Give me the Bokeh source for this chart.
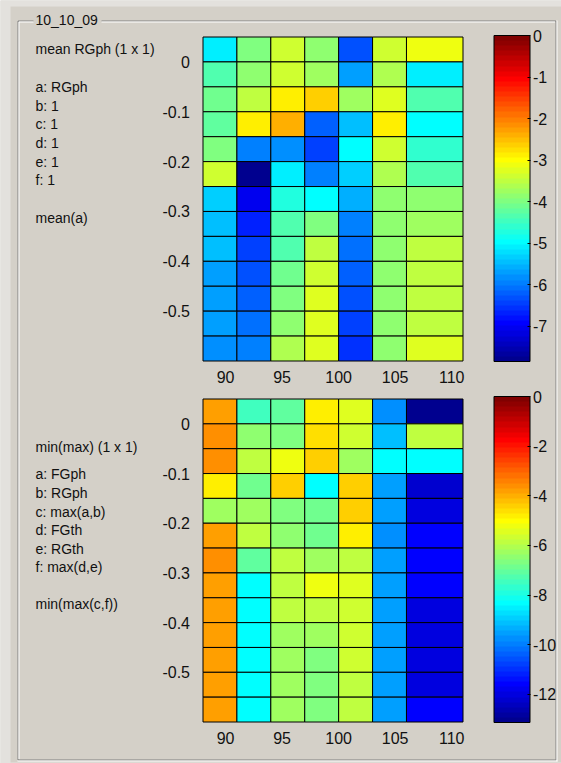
import numpy as np
from bokeh.plotting import figure
from bokeh.models import (Range1d, LinearAxis, FixedTicker, LinearColorMapper,
                          ColorBar, ColumnDataSource, AllLabels)
from bokeh.core.properties import value
from bokeh.embed import file_html
from bokeh.resources import INLINE

# ---------------- data ----------------
x_edges = [88, 91, 94, 97, 100, 103, 106, 111]
y_edges = [0.05, 0.0, -0.05, -0.1, -0.15, -0.2, -0.25, -0.3, -0.35,
           -0.4, -0.45, -0.5, -0.55, -0.6]

x_ticks = [90, 95, 100, 105, 110]
x_tick_labels = ["90", "95", "100", "105", "110"]
y_ticks = [0, -0.1, -0.2, -0.3, -0.4, -0.5]
y_tick_labels = ["0", "-0.1", "-0.2", "-0.3", "-0.4", "-0.5"]

top_values = [
    [-5.10, -4.00, -3.34, -3.85, -6.28, -3.34, -3.09],
    [-4.32, -3.85, -3.34, -3.73, -5.69, -3.61, -5.10],
    [-4.12, -3.53, -2.94, -2.69, -3.73, -3.22, -4.32],
    [-4.24, -2.94, -2.39, -6.20, -5.40, -2.94, -4.91],
    [-3.93, -5.89, -5.81, -6.48, -4.91, -3.34, -4.63],
    [-3.34, -7.80, -5.10, -5.97, -5.30, -3.61, -4.32],
    [-5.30, -7.07, -4.71, -5.02, -5.57, -3.85, -3.85],
    [-5.50, -6.67, -4.32, -4.00, -5.89, -3.85, -3.73],
    [-5.50, -6.48, -4.32, -3.53, -6.08, -3.85, -3.53],
    [-5.69, -6.36, -4.12, -3.34, -6.20, -3.85, -3.53],
    [-5.69, -6.20, -3.93, -3.22, -6.36, -3.85, -3.45],
    [-5.69, -6.08, -3.85, -3.22, -6.48, -3.85, -3.45],
    [-5.81, -5.97, -3.61, -3.22, -6.59, -3.85, -3.22],
]
bottom_values = [
    [-3.84, -7.55, -7.09, -4.92, -5.38, -9.72, -13.05],
    [-3.61, -6.43, -6.57, -4.60, -5.58, -9.03, -5.78],
    [-3.61, -5.91, -5.25, -4.46, -6.24, -8.21, -8.40],
    [-4.92, -6.89, -4.33, -8.21, -4.33, -9.52, -12.15],
    [-6.24, -6.24, -6.57, -6.89, -4.33, -9.52, -11.98],
    [-3.77, -5.78, -6.43, -6.89, -4.92, -9.72, -11.65],
    [-3.61, -7.09, -5.91, -6.24, -5.78, -9.52, -11.65],
    [-3.87, -8.21, -5.91, -5.25, -5.38, -9.52, -11.49],
    [-3.87, -8.21, -5.91, -5.78, -5.58, -9.52, -11.95],
    [-3.87, -8.21, -6.24, -6.24, -5.58, -9.52, -11.95],
    [-3.87, -8.21, -6.24, -6.57, -5.58, -9.52, -11.95],
    [-3.87, -8.21, -6.24, -6.70, -5.78, -9.52, -11.98],
    [-3.87, -8.21, -6.24, -6.70, -5.78, -9.52, -11.65],
]
top_clim = [-7.85, 0.0]
bottom_clim = [-13.13, 0.0]
cb_top_ticks = [0, -1, -2, -3, -4, -5, -6, -7]
cb_top_labels = ["0", "-1", "-2", "-3", "-4", "-5", "-6", "-7"]
cb_bot_ticks = [0, -2, -4, -6, -8, -10, -12]
cb_bot_labels = ["0", "-2", "-4", "-6", "-8", "-10", "-12"]

group_title = "10_10_09"
top_text = ["mean RGph  (1 x 1)", "a: RGph", "b: 1", "c: 1", "d: 1", "e: 1",
            "f: 1", "mean(a)"]
bottom_text = ["min(max)  (1 x 1)", "a: FGph", "b: RGph", "c: max(a,b)",
               "d: FGth", "e: RGth", "f: max(d,e)", "min(max(c,f))"]

# ---------------- layout (page pixels) ----------------
W, H = 561, 763
PX0, PY0 = 0, 0
PX1, PY1 = PX0 + W, PY0 + H
BG = "#d4d0c8"
FONT = "Liberation Sans"
TXT = "#111111"

HEAT_L, HEAT_R = 202.5, 462.5
TOP_T, TOP_B = 36.5, 360.5
BOT_T, BOT_B = 398.5, 721.5
CB_L, CB_W = 493.5, 36
CB_TOP = (35, 361)
CB_BOT = (396, 722)


def x_extra(d0, d1, p0, p1):
    s = (p1 - p0) / (d1 - d0)
    return Range1d(d0 - (p0 - PX0) / s, d1 + (PX1 - p1) / s)


def y_extra(d_top, d_bot, p_top, p_bot):
    s = (p_bot - p_top) / (d_top - d_bot)
    return Range1d(d_bot - (PY1 - p_bot) / s, d_top + (p_top - PY0) / s)


def jet(m=64):
    n = int(np.ceil(m / 4))
    u = np.concatenate([np.arange(1, n + 1) / n, np.ones(n - 1),
                        np.arange(n, 0, -1) / n])
    g = int(np.ceil(n / 2)) - (1 if m % 4 == 1 else 0) + np.arange(1, len(u) + 1)
    r = g + n
    b = g - n
    ch = np.zeros((m, 3))
    for k, idx in enumerate((r, g, b)):
        for i, val in zip(idx, u):
            if 1 <= i <= m:
                ch[i - 1, k] = val
    return ["#%02x%02x%02x" % tuple(int(round(c * 255)) for c in row) for row in ch]


JET = jet(64)

p = figure(width=W, height=H, x_range=Range1d(PX0, PX1), y_range=Range1d(PY1, PY0),
           output_backend="svg", toolbar_location=None, min_border=0,
           x_axis_type=None, y_axis_type=None,
           background_fill_color=BG, border_fill_color=BG, outline_line_color=None)

p.extra_x_ranges = {"hx": x_extra(x_edges[0], x_edges[-1], HEAT_L, HEAT_R)}
p.extra_y_ranges = {
    "hy1": y_extra(y_edges[0], y_edges[-1], TOP_T, TOP_B),
    "hy2": y_extra(y_edges[0], y_edges[-1], BOT_T, BOT_B),
    "cb1": y_extra(top_clim[1], top_clim[0], CB_TOP[0], CB_TOP[1]),
    "cb2": y_extra(bottom_clim[1], bottom_clim[0], CB_BOT[0], CB_BOT[1]),
}

# ---------------- window / group box ----------------
outer = "#e3e1dd"
p.quad(left=[0, 0], right=[10, 561], top=[0, 0], bottom=[763, 6],
       fill_color=outer, line_color=None)
p.quad(left=[0], right=[561], top=[762], bottom=[763], fill_color=outer, line_color=None)

dark, light = "#808080", "#ffffff"
p.segment(x0=[17.5, 17.5, 101, 555.5, 17.5], y0=[20.5, 20.5, 20.5, 20.5, 759.5],
          x1=[17.5, 33, 555.5, 555.5, 555.5], y1=[759.5, 20.5, 20.5, 759.5, 759.5],
          line_color=dark, line_width=1)
p.segment(x0=[18.5, 18.5, 101, 556.5, 17], y0=[21.5, 21.5, 21.5, 20, 760.5],
          x1=[18.5, 33, 554.5, 556.5, 557], y1=[758.5, 21.5, 21.5, 761, 760.5],
          line_color=light, line_width=1)
p.text(x=[35], y=[19.5], text=[group_title], text_font=value(FONT),
       text_font_size="14px", text_baseline="middle", text_color=TXT)

# ---------------- left texts ----------------
top_ys = [48, 86, 105, 123, 142, 161, 179, 217]
bot_ys = [446, 473, 492, 511, 529, 548, 566, 603]
p.text(x=[35] * len(top_text), y=top_ys, text=top_text, text_font=value(FONT),
       text_font_size="14px", text_baseline="middle", text_color=TXT)
p.text(x=[35] * len(bottom_text), y=bot_ys, text=bottom_text, text_font=value(FONT),
       text_font_size="14px", text_baseline="middle", text_color=TXT)


def panel(values, clim, yname, cbname, cb_ticks, cb_labels, bar):
    mapper = LinearColorMapper(palette=JET, low=clim[0], high=clim[1])
    L, R, T, B, V = [], [], [], [], []
    for r, row in enumerate(values):
        for c, v in enumerate(row):
            L.append(x_edges[c]); R.append(x_edges[c + 1])
            T.append(y_edges[r]); B.append(y_edges[r + 1]); V.append(v)
    src = ColumnDataSource(dict(left=L, right=R, top=T, bottom=B, v=V))
    p.quad(left="left", right="right", top="top", bottom="bottom", source=src,
           x_range_name="hx", y_range_name=yname,
           fill_color={"field": "v", "transform": mapper},
           line_color="black", line_width=1)

    ax = LinearAxis(x_range_name="hx", y_range_name=yname, fixed_location=y_edges[-1],
                    ticker=FixedTicker(ticks=x_ticks),
                    major_label_overrides=dict(zip(x_ticks, x_tick_labels)),
                    axis_line_color=None, major_tick_line_color=None,
                    minor_tick_line_color=None, major_label_standoff=4,
                    major_label_text_font=FONT, major_label_text_font_size="16px",
                    major_label_text_color=TXT)
    p.add_layout(ax, "below")
    ay = LinearAxis(x_range_name="hx", y_range_name=yname, fixed_location=x_edges[0],
                    ticker=FixedTicker(ticks=y_ticks),
                    major_label_overrides=dict(zip(y_ticks, y_tick_labels)),
                    axis_line_color=None, major_tick_line_color=None,
                    minor_tick_line_color=None, major_label_standoff=7,
                    major_label_text_font=FONT, major_label_text_font_size="16px",
                    major_label_text_color=TXT)
    p.add_layout(ay, "left")

    cb = ColorBar(color_mapper=mapper, location=(CB_L - PX0, PY1 - bar[1]),
                  width=CB_W, height=int(round(bar[1] - bar[0])), padding=0, margin=0,
                  ticker=FixedTicker(ticks=cb_ticks),
                  major_label_overrides=dict(zip(cb_ticks, cb_labels)),
                  major_label_policy=AllLabels(),
                  bar_line_color="black", major_tick_line_color="black",
                  major_tick_in=3, major_tick_out=0, minor_tick_line_color=None,
                  label_standoff=3, background_fill_color=None,
                  border_line_color=None, major_label_text_font=FONT,
                  major_label_text_font_size="16px", major_label_text_color=TXT)
    p.add_layout(cb, "center")
    # matching tick marks on the left edge of the colour bar
    p.segment(x0=[CB_L] * len(cb_ticks), x1=[CB_L + 3] * len(cb_ticks),
              y0=cb_ticks, y1=cb_ticks, y_range_name=cbname,
              line_color="black", line_width=1)


panel(top_values, top_clim, "hy1", "cb1", cb_top_ticks, cb_top_labels, CB_TOP)
panel(bottom_values, bottom_clim, "hy2", "cb2", cb_bot_ticks, cb_bot_labels, CB_BOT)

open("out.html", "w").write(file_html(p, INLINE))
